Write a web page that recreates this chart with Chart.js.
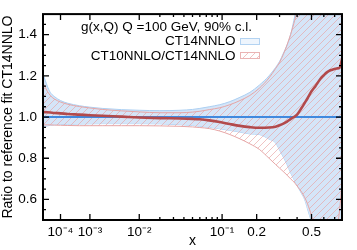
<!DOCTYPE html>
<html>
<head>
<meta charset="utf-8">
<script src="https://cdn.jsdelivr.net/npm/chart.js@4"></script>
<style>
  html, body { margin: 0; padding: 0; background: #fff; }
  #wrap { width: 357px; height: 250px; }
</style>
</head>
<body>
<div id="wrap"><canvas id="chart" width="357" height="250"></canvas></div>
<script>
// x positions (momentum fraction)
const xs = [1e-5, 2e-5, 3e-5, 5e-5, 1e-4, 2e-4, 5e-4, 1e-3, 2e-3, 5e-3,
  0.01, 0.02, 0.036, 0.05, 0.06, 0.075, 0.095, 0.118, 0.145, 0.176,
  0.21, 0.25, 0.28, 0.30, 0.32, 0.34, 0.36, 0.38, 0.40, 0.43,
  0.45, 0.47, 0.50, 0.53, 0.57, 0.60, 0.63, 0.66, 0.69, 0.72,
  0.75, 0.775];

// CT14NNLO 90% c.l. band (ratio to itself)
const ct14Up = [1.21, 1.15, 1.12, 1.10, 1.08, 1.067, 1.055, 1.048, 1.042, 1.036,
  1.033, 1.031, 1.033, 1.037, 1.042, 1.050, 1.060, 1.075, 1.096, 1.12,
  1.155, 1.20, 1.24, 1.27, 1.31, 1.35, 1.40, 1.47, 1.55, 1.68,
  1.78, 1.90, 2.05, 2.2, 2.4, 2.5, 2.6, 2.7, 2.8, 2.9,
  3.0, 3.1];
const ct14Dn = [0.952, 0.957, 0.960, 0.962, 0.964, 0.965, 0.966, 0.967, 0.968, 0.968,
  0.968, 0.967, 0.963, 0.959, 0.955, 0.950, 0.943, 0.935, 0.927, 0.918,
  0.915, 0.893, 0.875, 0.84, 0.805, 0.769, 0.73, 0.697, 0.668, 0.627,
  0.60, 0.555, 0.49, 0.42, 0.33, 0.28, 0.24, 0.20, 0.17, 0.14,
  0.12, 0.10];

// CT10NNLO band relative to CT14NNLO
const ct10Up = [1.165, 1.125, 1.105, 1.088, 1.073, 1.062, 1.051, 1.044, 1.037, 1.030,
  1.025, 1.021, 1.021, 1.024, 1.028, 1.036, 1.045, 1.060, 1.080, 1.105,
  1.14, 1.19, 1.235, 1.265, 1.305, 1.35, 1.40, 1.455, 1.52, 1.64,
  1.73, 1.84, 2.0, 2.15, 2.35, 2.45, 2.55, 2.65, 2.75, 2.85,
  2.95, 3.05];
const ct10Dn = [0.962, 0.962, 0.962, 0.961, 0.960, 0.959, 0.958, 0.958, 0.958, 0.958,
  0.958, 0.957, 0.955, 0.952, 0.949, 0.944, 0.932, 0.915, 0.894, 0.870,
  0.843, 0.80, 0.77, 0.752, 0.735, 0.718, 0.70, 0.685, 0.665, 0.635,
  0.61, 0.58, 0.52, 0.44, 0.36, 0.32, 0.30, 0.31, 0.35, 0.44,
  0.55, 0.68];

// central CT10NNLO / CT14NNLO
const ratio = [1.024, 1.023, 1.022, 1.020, 1.018, 1.015, 1.012, 1.009, 1.006, 1.002,
  0.998, 0.995, 0.993, 0.991, 0.989, 0.984, 0.976, 0.966, 0.957, 0.951,
  0.948, 0.949, 0.953, 0.960, 0.968, 0.978, 0.990, 1.000, 1.012, 1.045,
  1.068, 1.090, 1.125, 1.150, 1.185, 1.203, 1.218, 1.227, 1.232, 1.236,
  1.240, 1.28];

const centralX = [1e-5, 0.775];
const centralY = [1.0, 1.0];

const xTickVals = [1e-4, 1e-3, 1e-2, 0.1, 0.2, 0.5];
const xTickLabels = ['10\u207B\u2074', '10\u207B\u00B3', '10\u207B\u00B2', '10\u207B\u00B9', '0.2', '0.5'];
const xMinorVals = [0.02, 0.03, 0.04, 0.05, 0.06, 0.07, 0.08, 0.09, 0.3, 0.4, 0.6, 0.7];
const yTickVals = [0.6, 0.8, 1.0, 1.2, 1.4];
const yMinorVals = [0.55, 0.65, 0.7, 0.75, 0.85, 0.9, 0.95, 1.05, 1.1, 1.15, 1.25, 1.3, 1.35, 1.45];

const titleText = 'g(x,Q) Q =100 GeV, 90% c.l.';
const legendLabels = ['CT14NNLO', 'CT10NNLO/CT14NNLO'];

const P = 0.225;

// x axis scaled as x^P
class PowerScale extends Chart.LinearScale {
  static id = 'power';
  static defaults = Chart.LinearScale.defaults;
  configure() {
    super.configure();
    this._pmin = Math.pow(this.min, P);
    this._pmax = Math.pow(this.max, P);
  }
  getPixelForValue(v) {
    return this.getPixelForDecimal((Math.pow(v, P) - this._pmin) / (this._pmax - this._pmin));
  }
  getValueForPixel(px) {
    const t = this.getDecimalForPixel(px);
    return Math.pow(this._pmin + t * (this._pmax - this._pmin), 1 / P);
  }
}
Chart.register(PowerScale);

// pink hatch
function makeHatch(col) {
  const c = document.createElement('canvas');
  c.width = 7; c.height = 7;
  const g = c.getContext('2d');
  g.strokeStyle = col;
  g.lineWidth = 0.8;
  g.beginPath();
  g.moveTo(-1, 8); g.lineTo(8, -1);
  g.moveTo(-1, 1); g.lineTo(1, -1);
  g.moveTo(6, 8); g.lineTo(8, 6);
  g.stroke();
  return g.createPattern(c, 'repeat');
}
const hatch = makeHatch('rgba(232,160,160,0.8)');

const pts = ys => xs.map((x, i) => ({x: x, y: ys[i]}));

const FONT = '"Liberation Sans", Arial, sans-serif';

const decoPlugin = {
  id: 'deco',
  afterDraw(chart) {
    const ctx = chart.ctx;
    const a = chart.chartArea;
    const sx = chart.scales.x, sy = chart.scales.y;
    ctx.save();
    ctx.strokeStyle = '#000';
    ctx.lineWidth = 1.3;
    ctx.beginPath();
    xTickVals.forEach(v => {
      const p = sx.getPixelForValue(v);
      ctx.moveTo(p, a.bottom); ctx.lineTo(p, a.bottom - 6);
      ctx.moveTo(p, a.top); ctx.lineTo(p, a.top + 6);
    });
    xMinorVals.forEach(v => {
      const p = sx.getPixelForValue(v);
      ctx.moveTo(p, a.bottom); ctx.lineTo(p, a.bottom - 3);
      ctx.moveTo(p, a.top); ctx.lineTo(p, a.top + 3);
    });
    yTickVals.forEach(v => {
      const p = sy.getPixelForValue(v);
      ctx.moveTo(a.left, p); ctx.lineTo(a.left + 6, p);
      ctx.moveTo(a.right, p); ctx.lineTo(a.right - 6, p);
    });
    yMinorVals.forEach(v => {
      const p = sy.getPixelForValue(v);
      ctx.moveTo(a.left, p); ctx.lineTo(a.left + 3, p);
      ctx.moveTo(a.right, p); ctx.lineTo(a.right - 3, p);
    });
    ctx.stroke();
    ctx.lineWidth = 2;
    ctx.strokeRect(a.left, a.top, a.right - a.left, a.bottom - a.top);

    // legend
    ctx.fillStyle = '#000';
    ctx.font = '13.5px ' + FONT;
    ctx.textBaseline = 'alphabetic';
    ctx.textAlign = 'left';
    ctx.fillText(titleText, 81, 30.5);
    ctx.textAlign = 'right';
    ctx.fillText(legendLabels[0], 235.5, 45);
    ctx.fillText(legendLabels[1], 235.5, 59.5);

    ctx.lineWidth = 1;
    ctx.fillStyle = '#eef5fd';
    ctx.fillRect(240, 38, 20, 7);
    ctx.strokeStyle = '#b3d3f2';
    ctx.strokeRect(240.5, 38.5, 19, 6);
    ctx.fillStyle = hatch;
    ctx.fillRect(240, 52, 20, 7);
    ctx.strokeStyle = '#eab4b4';
    ctx.strokeRect(240.5, 52.5, 19, 6);
    ctx.restore();
  }
};

const blueFill = '#d5e5f8';
const blueEdge = '#abcff2';
const pinkEdge = '#e6a6a6';

new Chart(document.getElementById('chart'), {
  type: 'line',
  data: {
    datasets: [
      { data: pts(ct14Up), borderColor: blueEdge, borderWidth: 1, backgroundColor: blueFill,
        fill: 1, order: 5, pointRadius: 0, cubicInterpolationMode: 'monotone' },
      { data: pts(ct14Dn), borderColor: blueEdge, borderWidth: 1, fill: false,
        order: 5, pointRadius: 0, cubicInterpolationMode: 'monotone' },
      { data: pts(ct10Up), borderColor: pinkEdge, borderWidth: 1, backgroundColor: hatch,
        fill: 3, order: 4, pointRadius: 0, cubicInterpolationMode: 'monotone' },
      { data: pts(ct10Dn), borderColor: pinkEdge, borderWidth: 1, fill: false,
        order: 4, pointRadius: 0, cubicInterpolationMode: 'monotone' },
      { data: centralX.map((x, i) => ({x: x, y: centralY[i]})), borderColor: '#4189de',
        borderWidth: 2, fill: false, order: 1, pointRadius: 0 },
      { data: pts(ratio), borderColor: '#b24a4c', borderWidth: 2.6, fill: false,
        order: 0, pointRadius: 0, cubicInterpolationMode: 'monotone' }
    ]
  },
  options: {
    responsive: false,
    animation: false,
    layout: { padding: { left: 0, top: 10, right: 15, bottom: 0 } },
    plugins: { legend: { display: false }, tooltip: { enabled: false } },
    scales: {
      x: {
        type: 'power',
        min: 1e-5,
        max: 0.775,
        grid: { display: false, drawTicks: false },
        border: { display: false },
        afterBuildTicks: s => { s.ticks = xTickVals.map(v => ({ value: v })); },
        afterFit: s => { s.height = 30; },
        ticks: {
          autoSkip: false, maxRotation: 0, padding: 4, color: '#000',
          font: { family: FONT, size: 13.5 },
          callback: v => xTickLabels[xTickVals.indexOf(v)]
        },
        title: { display: true, text: 'x', color: '#000', font: { family: FONT, size: 14 },
          padding: { top: 0, bottom: 0 } }
      },
      y: {
        min: 0.5,
        max: 1.5,
        grid: { display: false, drawTicks: false },
        border: { display: false },
        afterBuildTicks: s => { s.ticks = yTickVals.map(v => ({ value: v })); },
        afterFit: s => { s.width = 43; },
        ticks: {
          padding: 6, color: '#000',
          font: { family: FONT, size: 13.5 },
          callback: v => v.toFixed(1)
        },
        title: { display: true, text: 'Ratio to reference fit CT14NNLO', color: '#000',
          font: { family: FONT, size: 14 }, padding: { top: 0, bottom: 0 } }
      }
    }
  },
  plugins: [decoPlugin]
});
</script>
</body>
</html>
